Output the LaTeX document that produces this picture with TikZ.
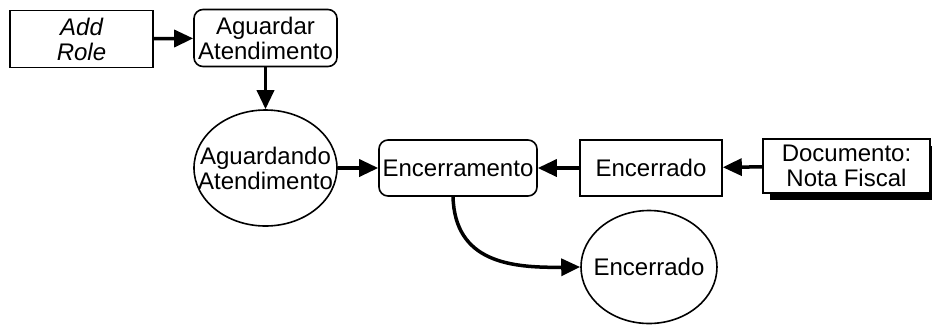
\documentclass[tikz,border=0pt]{standalone}
\usepackage{fontspec}
\setmainfont{Liberation Sans}
\usetikzlibrary{arrows.meta,shapes.geometric}
\begin{document}
\begin{tikzpicture}[x=1pt,y=-1pt,
  font=\fontsize{24}{25}\selectfont,
  box/.style={draw, line width=1.6pt, rectangle, fill=white, inner sep=0pt,
    minimum width=#1, minimum height=57pt, align=center},
  rbox/.style={box=#1, rounded corners=9pt},
  oval/.style={draw, line width=1.6pt, ellipse, inner sep=0pt, minimum width=#1},
  label text/.style={inner sep=0pt, align=center},
  flow/.style={line width=3.5pt, -{Triangle[length=19pt,width=17pt]}}]
\useasboundingbox (0,0) rectangle (932,325);

% states and activities
\node[box=143pt] (role) at (81.5,39) {\itshape Add\\\itshape Role};
\node[rbox=143pt] (wait) at (265.5,38) {Aguardar\\Atendimento};
\node[oval=143pt, minimum height=116pt] (waiting) at (265.5,168) {};
\node[label text] (waitingtext) at (waiting.center) {Aguardando\\Atendimento};
\node[rbox=158pt, minimum height=56pt] (close) at (458,168) {Encerramento};
\node[box=142pt, minimum height=56pt] (closed) at (651,168) {Encerrado};

% document with drop shadow
\fill (770,146) rectangle (940,200);
\node[box=167pt, minimum height=54pt] (doc) at (846.5,166) {Documento:\\Nota Fiscal};

\node[oval=136pt, minimum height=113pt] (end) at (649,267) {};
\node[label text] (endtext) at (end.center) {Encerrado};

% connectors
\draw[flow] (role) -- (wait);
\draw[flow] (wait) -- (waiting);
\draw[flow] (waiting) -- (close);
\draw[flow] (closed) -- (close);
\draw[flow] (doc) -- (closed);
\draw[flow] (close.south -| 453,0) .. controls (455,262) and (510,268) .. (end.west);
\end{tikzpicture}
\end{document}
